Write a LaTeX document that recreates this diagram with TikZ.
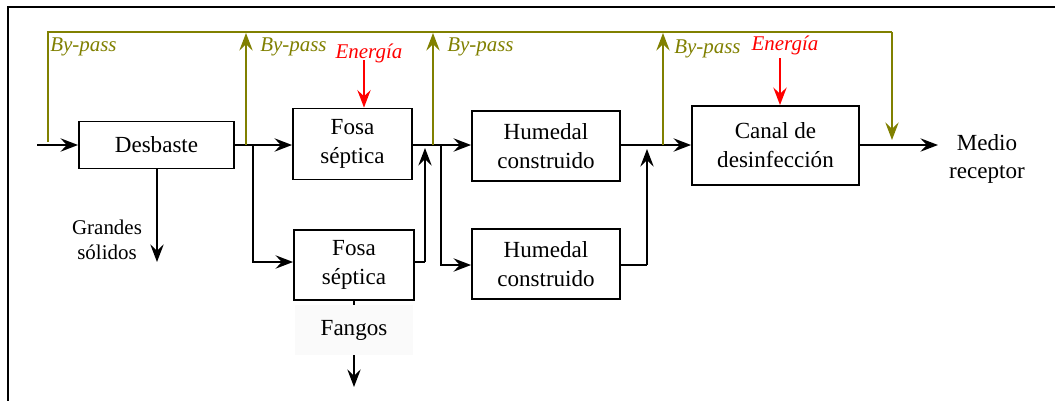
\documentclass[tikz,border=0pt]{standalone}
\usepackage{fontspec}
\setmainfont{Liberation Serif}
\usepackage{tikz}
\usetikzlibrary{arrows.meta, positioning}
\definecolor{verdeoliva}{RGB}{128,128,0}
\tikzset{
	caja/.style={rectangle, draw=black, line width=1.3pt, text centered, align=center, inner sep=0pt, font=\fontsize{16.4}{20.5}\selectfont},
	flecha/.style={line width=1.3pt, >={Stealth[length=12.5pt, width=9.5pt, inset=4.5pt]}, ->},
	linea/.style={line width=1.3pt},
	bypass/.style={line width=1.3pt, draw=verdeoliva},
	etiq/.style={font=\fontsize{14.9}{17.5}\selectfont\itshape, inner sep=0pt},
	texto/.style={font=\fontsize{14.9}{18}\selectfont, align=center, inner sep=0pt}
}

\begin{document}
\begin{tikzpicture}[x=0.025cm, y=-0.025cm]
		\useasboundingbox (0,0) rectangle (1055,401);
		% Marco
		\draw[line width=1.1pt] (8,7) rectangle (1070,420);
		
		% Procesos
		\node[caja, minimum width=3.875cm, minimum height=1.175cm] (des) at (156.5,145) {Desbaste};
		\node[caja, minimum width=2.975cm, minimum height=1.775cm] (fosa1) at (352.5,144) {Fosa\\séptica};
		\node[caja, minimum width=3cm, minimum height=1.75cm] (fosa2) at (354,265) {Fosa\\séptica};
		\node[caja, minimum width=3.7cm, minimum height=1.75cm] (hum1) at (546,146) {Humedal\\construido};
		\node[caja, minimum width=3.7cm, minimum height=1.75cm] (hum2) at (546,264) {Humedal\\construido};
		\node[caja, minimum width=4.175cm, minimum height=1.975cm] (canal) at (775.5,145.5) {Canal de\\desinfección};
		
		% Puntos de union
		\coordinate (ent) at (37,145);
		\coordinate (j0) at (48,142);
		\coordinate (j1) at (246,145);
		\coordinate (r1) at (253,145);
		\coordinate (j2) at (433,145);
		\coordinate (r2) at (441,145);
		\coordinate (j3) at (663,145);
		\coordinate (fin) at (938,145);
		\coordinate (arr) at (892,32);
		
		% Linea principal
		\draw[flecha] (ent) -- (des.west |- ent);
		\draw[linea] (des.east |- j1) -- (j1);
		\draw[flecha] (j1) -- (fosa1.west |- j1);
		\draw[linea] (fosa1.east |- j2) -- (j2);
		\draw[flecha] (j2) -- (hum1.west |- j2);
		\draw[linea] (hum1.east |- j3) -- (j3);
		\draw[flecha] (j3) -- (canal.west |- j3);
		\draw[flecha] (canal.east |- fin) -- (fin);
		\node[texto, font=\fontsize{16.4}{20}\selectfont] (medio) at (987,159) {Medio\\receptor};
		
		% Ramales
		\draw[flecha] (r1) -- (253,262) -- (fosa2.west |- 0,262);
		\draw[linea] (fosa2.east |- 0,262) -- (425,262);
		\draw[flecha] (425,262) -- (425,148);
		\draw[flecha] (r2) -- (441,265) -- (hum2.west |- 0,265);
		\draw[linea] (hum2.east |- 0,265) -- (647,265);
		\draw[flecha] (647,265) -- (647,149);
		
		% Salidas
		\draw[flecha] (des.south -| 157,0) -- (157,262);
		\node[texto] (solidos) at (107,240) {Grandes\\sólidos};
		\draw[flecha] (fosa2.south) -- (354,387);
		\node[texto, font=\fontsize{16.4}{20}\selectfont, fill=black!2, minimum width=2.95cm, minimum height=1.25cm] (fangos) at (354,330) {Fangos};
		\draw[linea] (fosa2.south) -- (fangos.north -| fosa2.south);
		
		% By-pass
		\draw[bypass] (j0) -- (48,32) -- (arr);
		\draw[bypass, flecha, draw=verdeoliva] (arr) -- (892,140);
		\draw[bypass, flecha, draw=verdeoliva] (j1) -- (246,33);
		\draw[bypass, flecha, draw=verdeoliva] (j2) -- (433,33);
		\draw[bypass, flecha, draw=verdeoliva] (j3) -- (663,33);
		\node[etiq, text=verdeoliva, anchor=west] (bp0) at (50,47) {By-pass};
		\node[etiq, text=verdeoliva, anchor=west] (bp1) at (260,47) {By-pass};
		\node[etiq, text=verdeoliva, anchor=west] (bp2) at (447,47) {By-pass};
		\node[etiq, text=verdeoliva, anchor=west] (bp3) at (674,49) {By-pass};
		
		% Energia
		\node[etiq, text=red] (en1) at (369,53) {Energía};
		\node[etiq, text=red] (en2) at (785,45) {Energía};
		\draw[flecha, red] (364,60) -- (364,0 |- fosa1.north);
		\draw[flecha, red] (780,58) -- (780,0 |- canal.north);
	\end{tikzpicture}
\end{document}
